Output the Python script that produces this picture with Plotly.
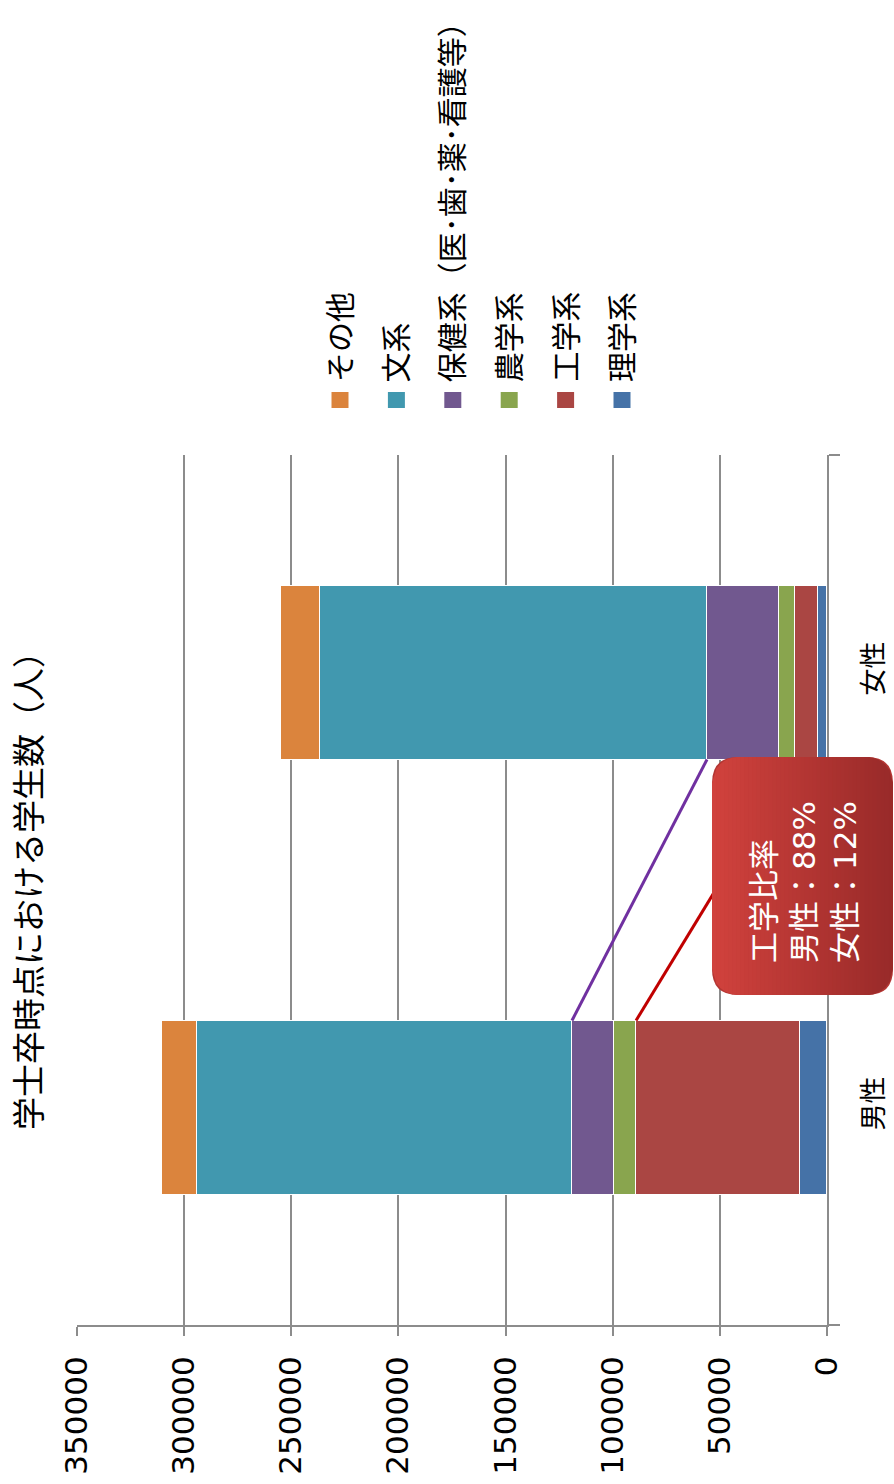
import math
import plotly.graph_objects as go

# ---- data ----
categories = ["男性", "女性"]
series_names = ["理学系", "工学系", "農学系", "保健系（医･歯･薬･看護等）", "文系", "その他"]
rigaku = [12600, 4200]
kogaku = [76500, 10700]
nogaku = [10300, 7500]
hoken = [19600, 33600]
bunkei = [175000, 180600]
sonota = [16300, 18200]
series_values = [rigaku, kogaku, nogaku, hoken, bunkei, sonota]
x_tick_values = [0, 50000, 100000, 150000, 200000, 250000, 300000, 350000]
title_text = "学士卒時点における学生数（人）"
callout_title = "工学比率"

colors = ["#4572A7", "#AA4643", "#89A54E", "#71588F", "#4198AF", "#DB843D"]
series_line_colors = {1: "#C00000", 3: "#7030A0"}

W, H = 894, 1484
L, R, T, B = 77, 67, 455, 159
PW, PH = W - L - R, H - T - B
FONT = "DejaVu Sans, Noto Sans CJK JP"

def px(xp):
    return (xp - L) / PW

def py(yp):
    return (H - B - yp) / PH

ypos = list(range(len(categories)))
bar_w = 0.4

fig = go.Figure()
for name, vals, col in zip(series_names, series_values, colors):
    fig.add_trace(go.Bar(
        x=vals, y=ypos, orientation="h", name=name, width=bar_w,
        marker=dict(color=col, line=dict(color="white", width=1.5)),
        showlegend=False,
    ))

# series lines (connect stacked tops between the two bars)
cum = [[0] * len(categories)]
for vals in series_values:
    cum.append([c + v for c, v in zip(cum[-1], vals)])
for idx, lc in series_line_colors.items():
    top = cum[idx + 1]
    fig.add_trace(go.Scatter(
        x=[top[0], top[1]], y=[ypos[0] + bar_w / 2, ypos[1] - bar_w / 2],
        mode="lines", line=dict(color=lc, width=3), showlegend=False,
        hoverinfo="skip",
    ))

shapes = []
annotations = []

# callout with horizontal gradient
x0, x1, y0, y1, r = 712, 893, 757, 995, 26
c_left = (209, 66, 61)
c_right = (152, 42, 41)

def lerp(a, b, t):
    return tuple(int(round(a[i] + (b[i] - a[i]) * t)) for i in range(3))

def col_hex(c):
    return "#%02x%02x%02x" % c

mid = lerp(c_left, c_right, 0.5)
base_path = (
    f"M {px(x0 + r)} {py(y0)} L {px(x1 - r)} {py(y0)} "
    f"Q {px(x1)} {py(y0)} {px(x1)} {py(y0 + r)} L {px(x1)} {py(y1 - r)} "
    f"Q {px(x1)} {py(y1)} {px(x1 - r)} {py(y1)} L {px(x0 + r)} {py(y1)} "
    f"Q {px(x0)} {py(y1)} {px(x0)} {py(y1 - r)} L {px(x0)} {py(y0 + r)} "
    f"Q {px(x0)} {py(y0)} {px(x0 + r)} {py(y0)} Z"
)
shapes.append(dict(type="path", xref="paper", yref="paper", path=base_path,
                   fillcolor=col_hex(mid), line=dict(width=0), layer="above"))

def inset(x):
    if x < x0 + r:
        d = x0 + r - x
    elif x > x1 - r:
        d = x - (x1 - r)
    else:
        return 0.0
    d = min(d, r)
    return r - math.sqrt(max(r * r - d * d, 0))

N = 45
for i in range(N):
    a = x0 + (x1 - x0) * i / N
    b = x0 + (x1 - x0) * (i + 1) / N
    b2 = min(b + 0.6, x1)
    pts = [(a, y0 + inset(a)), (b2, y0 + inset(b2)), (b2, y1 - inset(b2)), (a, y1 - inset(a))]
    path = "M " + " L ".join(f"{px(p[0])} {py(p[1])}" for p in pts) + " Z"
    c = lerp(c_left, c_right, (i + 0.5) / N)
    shapes.append(dict(type="path", xref="paper", yref="paper", path=path,
                       fillcolor=col_hex(c), line=dict(width=0), layer="above"))

m_k, f_k = kogaku
tot = m_k + f_k
callout_text = (f"{callout_title}<br>{categories[0]}：{round(100 * m_k / tot)}%"
                f"<br>{categories[1]}：{round(100 * f_k / tot)}%")
annotations.append(dict(
    x=px(804), y=py(965), xref="paper", yref="paper", text=callout_text,
    textangle=-90, showarrow=False, xanchor="center", yanchor="bottom",
    align="left", font=dict(family=FONT, size=31, color="white"),
))

# title
annotations.append(dict(
    x=px(29), y=py(883), xref="paper", yref="paper", text=title_text,
    textangle=-90, showarrow=False, xanchor="center", yanchor="middle",
    font=dict(family=FONT, size=33, color="black"),
))

# legend (rotated)
legend_order = list(range(len(series_names)))[::-1]
for k, idx in enumerate(legend_order):
    cx = 340 + k * 56.4
    shapes.append(dict(type="rect", xref="paper", yref="paper",
                       x0=px(cx - 8.5), x1=px(cx + 8.5), y0=py(408), y1=py(392),
                       fillcolor=colors[idx], line=dict(width=0)))
    annotations.append(dict(
        x=px(cx), y=py(384), xref="paper", yref="paper", text=series_names[idx],
        textangle=-90, showarrow=False, xanchor="center", yanchor="bottom",
        font=dict(family=FONT, size=30, color="black"),
    ))

fig.update_layout(
    width=W, height=H,
    margin=dict(l=L, r=R, t=T, b=B, pad=0, autoexpand=False),
    paper_bgcolor="white", plot_bgcolor="white",
    barmode="stack", bargap=0,
    shapes=shapes, annotations=annotations,
    font=dict(family=FONT, color="black"),
    showlegend=False,
)
fig.update_xaxes(
    range=[350000, 0], tickvals=x_tick_values,
    ticktext=[str(v) for v in x_tick_values],
    tickangle=-90, tickfont=dict(size=31, family=FONT),
    showgrid=True, gridcolor="#8C8C8C", gridwidth=1.5,
    showline=True, linecolor="#8C8C8C", linewidth=2,
    ticks="outside", ticklen=9, tickcolor="#8C8C8C", tickwidth=1.5,
    zeroline=False, ticklabelstandoff=8, automargin=False,
)
fig.update_yaxes(
    range=[-0.5, len(categories) - 0.5], tickvals=ypos, ticktext=categories,
    side="right", tickangle=-90, tickfont=dict(size=27, family=FONT),
    showgrid=False, zeroline=False,
    showline=True, linecolor="#8C8C8C", linewidth=2,
    ticks="", ticklabelstandoff=22, automargin=False,
    minor=dict(tickvals=[-0.5, 0.5, 1.5], ticks="outside", ticklen=11,
               tickcolor="#8C8C8C", tickwidth=1.5, showgrid=False),
)

fig.write_html(
    "out.html",
    config={"displayModeBar": False},
    post_script="document.body.style.margin='0';document.body.style.overflow='hidden';",
)
